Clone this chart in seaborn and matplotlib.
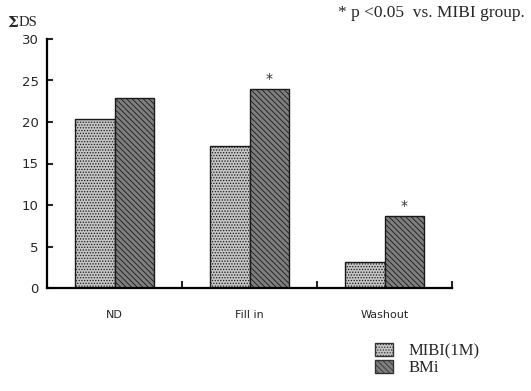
import numpy as np
import pandas as pd
import matplotlib
matplotlib.use("Agg")
import matplotlib.pyplot as plt
import seaborn as sns

# ---------------------------------------------------------
# Data
# ---------------------------------------------------------
phases = ["ND", "Fill in", "Washout"]
groups = ["MIBI(1M)", "BMi"]
mibi_vals = [20.4, 17.1, 3.1]
bmi_vals = [22.9, 24.0, 8.7]
sig_flags = [False, True, True]   # * over BMi bar

df = pd.DataFrame({
    "phase": phases * 2,
    "group": [groups[0]] * 3 + [groups[1]] * 3,
    "ds": mibi_vals + bmi_vals,
})

sns.set_style("white")
plt.rcParams["hatch.linewidth"] = 0.6
plt.rcParams["font.family"] = ["DejaVu Sans"]

colors = ["#c4c4c4", "#7e7e7e"]
hatches = ["......", "\\\\\\\\\\\\"]

fig = plt.figure(figsize=(5.31, 3.91), dpi=100)
ax = fig.add_axes([47 / 531, 1 - 288 / 391, 405 / 531, 249 / 391])

sns.barplot(data=df, x="phase", y="ds", hue="group", order=phases,
            hue_order=groups, width=0.58, gap=0, ax=ax,
            palette=colors, edgecolor="black",
            linewidth=1.0, legend=False)

for cont, h in zip(ax.containers, hatches):
    for bar in cont:
        bar.set_hatch(h)
        bar.set_edgecolor("#1a1a1a")

# significance stars above BMi bars
for bar, flag in zip(ax.containers[1], sig_flags):
    if flag:
        ax.text(bar.get_x() + bar.get_width() / 2, bar.get_height() + 0.3, "*",
                ha="center", va="bottom", fontsize=10, color="#333333")

ax.set_xlim(-0.5, 2.5)
ax.set_ylim(0, 30)
ax.set_yticks([0, 5, 10, 15, 20, 25, 30])
ax.set_xlabel("")
ax.set_ylabel("")
sns.despine(ax=ax)
for s in ["left", "bottom"]:
    ax.spines[s].set_linewidth(1.6)
    ax.spines[s].set_color("black")

ax.tick_params(axis="y", direction="in", length=4, width=1.5, labelsize=9.5,
               left=True, pad=6)
ax.tick_params(axis="x", which="major", length=0, labelsize=8, pad=16)
ax.set_xticks([0.5, 1.5, 2.5], minor=True)
ax.tick_params(axis="x", which="minor", direction="in", length=5, width=1.5,
               bottom=True)

# y label and note
fig.text(7 / 531, 1 - 23 / 391, "\u03a3", fontsize=11, fontweight="bold",
         family="DejaVu Serif", va="center", ha="left")
fig.text(19 / 531, 1 - 23 / 391, "DS", fontsize=10.5, family="Liberation Serif",
         va="center", ha="left")
fig.text(525 / 531, 1 - 13 / 391, "* p <0.05  vs. MIBI group.", fontsize=12.5,
         family="Liberation Serif", ha="right", va="center")

handles = [plt.Rectangle((0, 0), 1, 1, facecolor=c, hatch=h, edgecolor="#333333")
           for c, h in zip(colors, hatches)]
fig.legend(handles, groups, loc="upper left",
           bbox_to_anchor=(375 / 531, 1 - 343 / 391), frameon=False,
           prop={"family": "Liberation Serif", "size": 12},
           handlelength=1.1, handleheight=0.8, handletextpad=0.9,
           labelspacing=0.05, borderpad=0, borderaxespad=0)

fig.savefig("out.png", dpi=100)
